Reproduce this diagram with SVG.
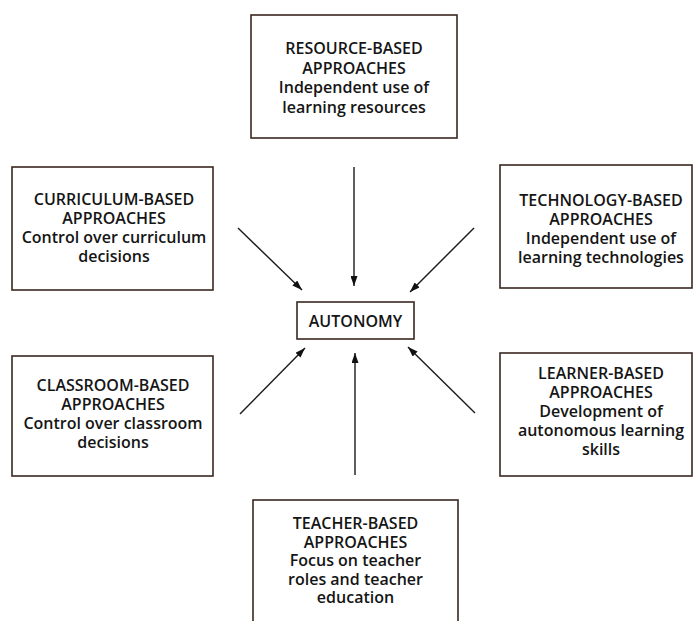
<svg xmlns="http://www.w3.org/2000/svg" width="693" height="621" viewBox="0 0 693 621">
<style>
.box{fill:#ffffff;stroke:#3a2722;stroke-width:1.6}
.t{font-family:"Open Sans","Noto Sans","Liberation Sans",sans-serif;font-size:16px;font-weight:600;fill:#151515;text-anchor:middle}
.c{stroke:#1a1a1a;stroke-width:1.4;fill:none;marker-end:url(#ah)}
</style>
<defs>
<marker id="ah" viewBox="0 0 10 7" refX="10" refY="3.5" markerWidth="10" markerHeight="7" markerUnits="userSpaceOnUse" orient="auto">
<path d="M0,0 L10,3.5 L0,7 Z" fill="#111"/>
</marker>
</defs>
<rect width="693" height="621" fill="#ffffff"/>
<g id="connectors">
<line class="c" x1="354" y1="167" x2="354" y2="286"/>
<line class="c" x1="238" y1="228" x2="302" y2="290"/>
<line class="c" x1="474" y1="228" x2="410" y2="292"/>
<line class="c" x1="240" y1="414" x2="305" y2="348"/>
<line class="c" x1="355" y1="475" x2="355" y2="353"/>
<line class="c" x1="475" y1="413" x2="408" y2="347"/>
</g>
<g id="resource">
<rect class="box" x="251" y="15" width="206" height="123"/>
<text class="t" x="354" y="54">RESOURCE-BASED</text>
<text class="t" x="354" y="73.5">APPROACHES</text>
<text class="t" x="354" y="93">Independent use of</text>
<text class="t" x="354" y="112.5">learning resources</text>
</g>
<g id="curriculum">
<rect class="box" x="12" y="167" width="201" height="123"/>
<text class="t" x="114" y="205">CURRICULUM-BASED</text>
<text class="t" x="114" y="224">APPROACHES</text>
<text class="t" x="114" y="243">Control over curriculum</text>
<text class="t" x="114" y="262">decisions</text>
</g>
<g id="technology">
<rect class="box" x="500" y="165" width="192" height="123"/>
<text class="t" x="601" y="206">TECHNOLOGY-BASED</text>
<text class="t" x="601" y="225">APPROACHES</text>
<text class="t" x="601" y="244">Independent use of</text>
<text class="t" x="601" y="263">learning technologies</text>
</g>
<g id="autonomy">
<rect class="box" x="297" y="302" width="117" height="37"/>
<text class="t" x="355.5" y="327">AUTONOMY</text>
</g>
<g id="classroom">
<rect class="box" x="12" y="356" width="201" height="120"/>
<text class="t" x="113" y="391">CLASSROOM-BASED</text>
<text class="t" x="113" y="410">APPROACHES</text>
<text class="t" x="113" y="429">Control over classroom</text>
<text class="t" x="113" y="448">decisions</text>
</g>
<g id="learner">
<rect class="box" x="500" y="353" width="192" height="123"/>
<text class="t" x="601" y="379">LEARNER-BASED</text>
<text class="t" x="601" y="398">APPROACHES</text>
<text class="t" x="601" y="417">Development of</text>
<text class="t" x="601" y="436">autonomous learning</text>
<text class="t" x="601" y="455">skills</text>
</g>
<g id="teacher">
<rect class="box" x="253" y="500" width="205" height="130"/>
<text class="t" x="355.5" y="529">TEACHER-BASED</text>
<text class="t" x="355.5" y="547.5">APPROACHES</text>
<text class="t" x="355.5" y="566">Focus on teacher</text>
<text class="t" x="355.5" y="584.5">roles and teacher</text>
<text class="t" x="355.5" y="603">education</text>
</g>
</svg>
